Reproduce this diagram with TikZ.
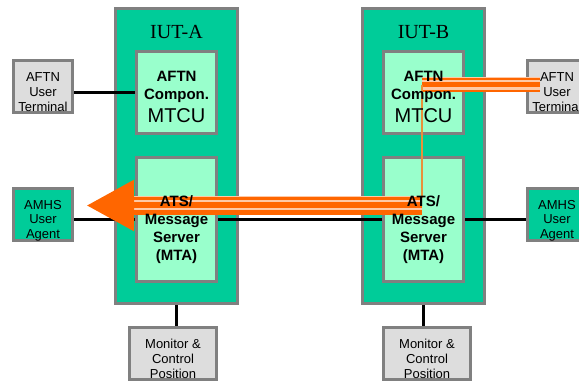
\documentclass[tikz,border=0pt]{standalone}
\usepackage{fontspec}
\setmainfont{Liberation Sans}
\newfontfamily\iutfont{Liberation Serif}
\usepackage{xcolor}
\usetikzlibrary{arrows.meta}

\definecolor{iutgreen}{HTML}{00CC99}
\definecolor{mtagreen}{HTML}{99FFCC}
\definecolor{termgray}{HTML}{DDDDDD}
\definecolor{edgegray}{HTML}{808080}
\definecolor{flow}{HTML}{FF6600}
\definecolor{flowthin}{HTML}{E8913A}

\pgfdeclarelayer{back}
\pgfdeclarelayer{front}
\pgfsetlayers{back,main,front}

\newcommand{\lift}[1]{\rule{0pt}{#1}}

\begin{document}
\begin{tikzpicture}[x=1pt, y=-1pt,
  box/.style={draw=edgegray, line width=3pt, inner sep=0pt, align=center},
  iut/.style={box, fill=iutgreen, minimum width=122pt, minimum height=295pt},
  comp/.style={box, fill=mtagreen, minimum width=80pt},
  comptext/.style={inner sep=0pt, align=center, font=\fontsize{15}{18}\selectfont\bfseries},
  term/.style={box, fill=termgray, minimum width=59pt, minimum height=52pt, font=\fontsize{13}{15}\selectfont},
  agent/.style={box, fill=iutgreen, minimum width=59pt, minimum height=52pt, font=\fontsize{13}{14.5}\selectfont},
  mon/.style={box, fill=termgray, minimum width=87pt, minimum height=52pt, font=\fontsize{13}{15}\selectfont},
  link/.style={line width=2.7pt, black},
  flowline/.style={draw=flow, fill=flow}]
\useasboundingbox (0,0) rectangle (579,385);

% the two implementations under test
\begin{pgfonlayer}{back}
\node[iut] (iutA) at (176.5,156) {};
\node[iut] (iutB) at (423.5,156) {};
\node[comp, minimum height=82pt] (aftnA) at (176.5,92.5) {};
\node[comp, minimum height=82pt] (aftnB) at (423.5,92.5) {};
\node[comp, minimum height=124pt] (mtaA) at (176.5,219.5) {};
\node[comp, minimum height=124pt] (mtaB) at (423.5,219.5) {};
\end{pgfonlayer}
\node[font=\iutfont\fontsize{20}{24}\selectfont] (labA) at (176.5,32) {IUT-A};
\node[font=\iutfont\fontsize{20}{24}\selectfont] (labB) at (423.5,32) {IUT-B};

\begin{pgfonlayer}{front}
\node[comptext] (aftnAtxt) at (aftnA) {\lift{20pt}AFTN\\Compon.\\[5pt]{\fontsize{20}{23}\mdseries\selectfont MTCU}};
\node[comptext] (aftnBtxt) at (aftnB) {\lift{20pt}AFTN\\Compon.\\[5pt]{\fontsize{20}{23}\mdseries\selectfont MTCU}};
\node[comptext] (mtaAtxt) at (mtaA) {\lift{32pt}ATS/\\Message\\Server\\(MTA)};
\node[comptext] (mtaBtxt) at (mtaB) {\lift{32pt}ATS/\\Message\\Server\\(MTA)};
\end{pgfonlayer}

% users and monitors
\node[term] (termL) at (43,86.5) {\lift{20.4pt}AFTN\\User\\Terminal};
\node[term] (termR) at (557,86.5) {\lift{20.4pt}AFTN\\User\\Terminal};
\node[agent] (uaL) at (43,214.5) {\lift{20.7pt}AMHS\\User\\Agent};
\node[agent] (uaR) at (557,214.5) {\lift{20.7pt}AMHS\\User\\Agent};
\node[mon] (monA) at (173,353.5) {\lift{19.6pt}Monitor \&\\Control\\Position};
\node[mon] (monB) at (427,353.5) {\lift{19.6pt}Monitor \&\\Control\\Position};

% connections
\begin{pgfonlayer}{back}
\draw[link] (termL.east |- aftnA.west) -- (aftnA.west);
\draw[link] (uaL.east |- mtaA.west) -- (mtaA.west);
\draw[link] (mtaA.east) -- (mtaB.west);
\draw[link] (mtaB.east) -- (mtaB.east -| uaR.west);
\draw[link] (iutA.south) -- (iutA.south |- monA.north);
\draw[link] (iutB.south) -- (iutB.south |- monB.north);
\end{pgfonlayer}

% message flow
\coordinate (jct) at (422,85);
\coordinate (endR) at (540,85);
\coordinate (bend) at (422,205.5);
\coordinate (tip) at (87,205.5);

\draw[flow!35, line width=15pt] (jct) -- (endR);
\draw[flowline, line width=2.5pt] ([yshift=6pt]jct) -- ([yshift=6pt]endR);
\draw[flowline, line width=5pt] (jct) -- (endR);
\draw[flowline, line width=2.5pt] ([yshift=-6pt]jct) -- ([yshift=-6pt]endR);
\draw[flowthin, line width=1.2pt] (jct) -- ([yshift=7pt]bend);

\draw[flow!35, line width=19pt] (bend) -- ([xshift=47pt]tip);
\draw[flowline, line width=3pt] ([yshift=7pt]bend) -- ([yshift=7pt,xshift=47pt]tip);
\draw[flowline, line width=6pt, -{Triangle[length=47pt,width=50pt]}] (bend) -- (tip);
\draw[flowline, line width=5pt] ([yshift=-7pt]bend) -- ([yshift=-7pt,xshift=47pt]tip);
\end{tikzpicture}
\end{document}
